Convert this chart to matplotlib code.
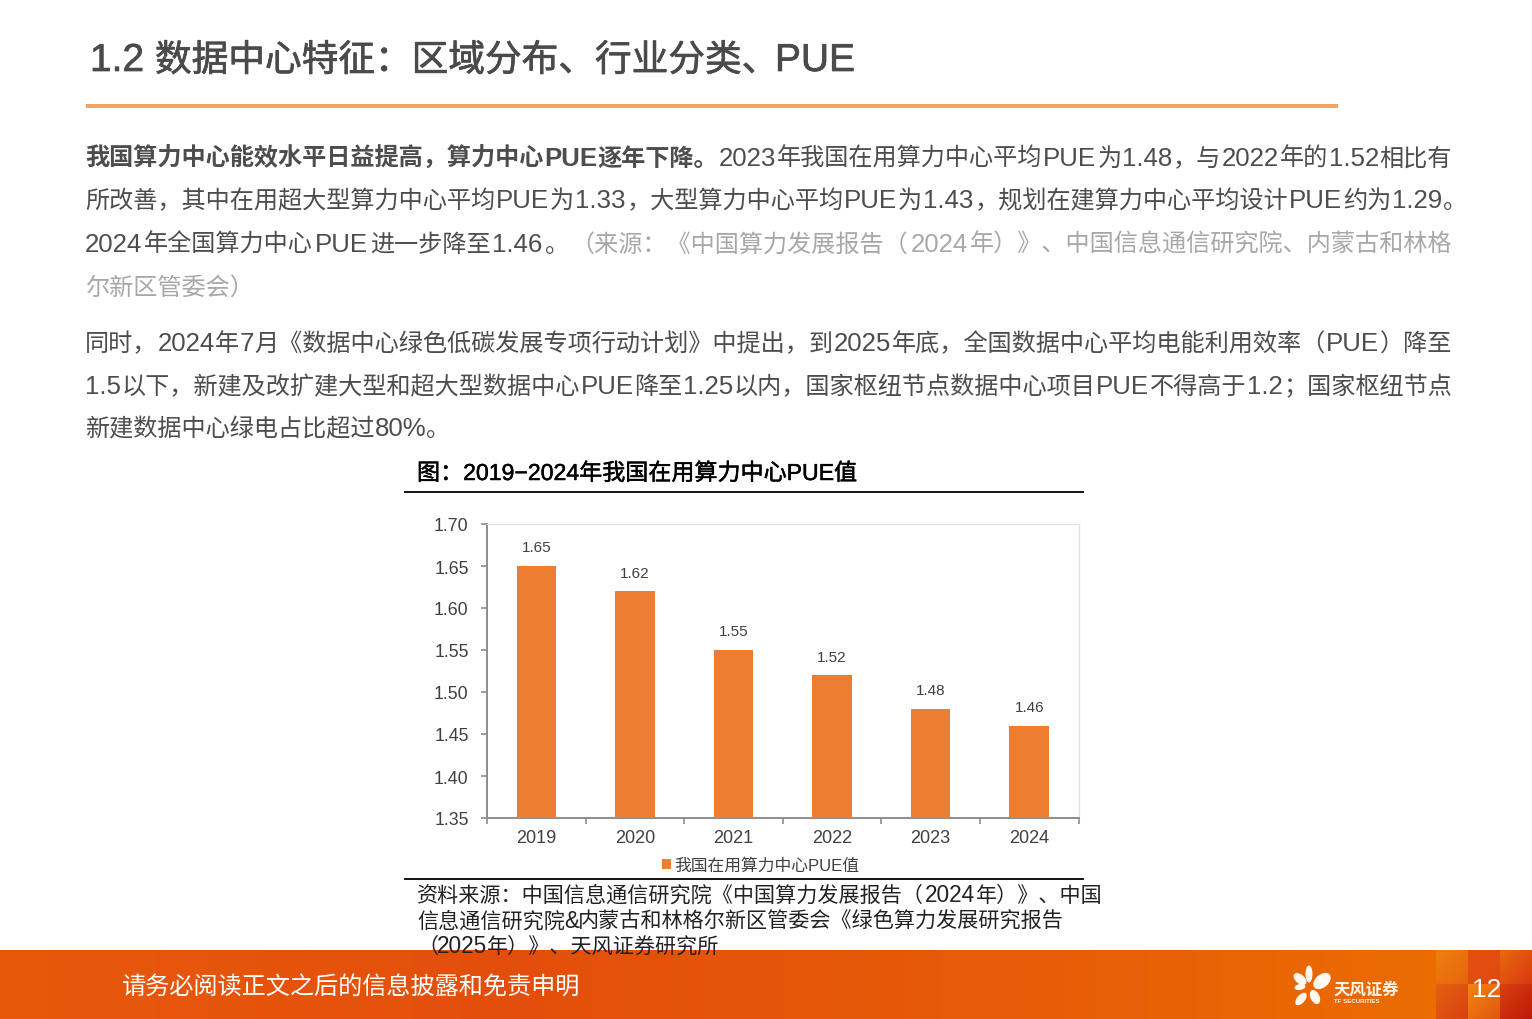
import re
import numpy as np
import matplotlib
matplotlib.use('Agg')
import matplotlib.pyplot as plt
import matplotlib.patheffects as pe
from matplotlib.colors import LinearSegmentedColormap
from matplotlib.patches import Rectangle, Ellipse

plt.rcParams['font.family'] = ['Liberation Sans', 'Noto Sans CJK SC', 'DejaVu Sans']

years = ['2019', '2020', '2021', '2022', '2023', '2024']
pue = [1.65, 1.62, 1.55, 1.52, 1.48, 1.46]
pue_ticks = [1.35, 1.40, 1.45, 1.50, 1.55, 1.60, 1.65, 1.70]
series_name = '我国在用算力中心PUE值'

title_parts = ['1.2', '数据中心特征：区域分布、行业分类、', 'PUE']
chart_title = '图：2019−2024年我国在用算力中心PUE值'
source_lines = ['资料来源：中国信息通信研究院《中国算力发展报告（2024年）》、中国',
                '信息通信研究院&内蒙古和林格尔新区管委会《绿色算力发展研究报告',
                '（2025年）》、天风证券研究所']
footer_note = '请务必阅读正文之后的信息披露和免责申明'
page_no = '12'

# (text, style) runs for each body line
body_lines = [
    [('我国算力中心能效水平日益提高，算力中心PUE逐年下降。', 'b'),
     ('2023年我国在用算力中心平均PUE为1.48，与2022年的1.52相比有', 'n')],
    [('所改善，其中在用超大型算力中心平均PUE为1.33，大型算力中心平均PUE为1.43，规划在建算力中心平均设计PUE约为1.29。', 'n')],
    [('2024年全国算力中心PUE进一步降至1.46。', 'n'),
     ('（来源：《中国算力发展报告（2024年）》、中国信息通信研究院、内蒙古和林格', 'g')],
    [('尔新区管委会）', 'g')],
    [('同时，2024年7月《数据中心绿色低碳发展专项行动计划》中提出，到2025年底，全国数据中心平均电能利用效率（PUE）降至', 'n')],
    [('1.5以下，新建及改扩建大型和超大型数据中心PUE降至1.25以内，国家枢纽节点数据中心项目PUE不得高于1.2；国家枢纽节点', 'n')],
    [('新建数据中心绿电占比超过80%。', 'n')],
]
body_y = [166, 208, 252, 295, 351, 394, 436]
body_end = [1452, 1467, 1452, None, 1452, 1452, None]

W, H = 1532, 1020
fig = plt.figure(figsize=(W / 100, H / 100), dpi=100, facecolor='white')

# page layer in pixel coords
bg = fig.add_axes([0, 0, 1, 1])
bg.set_xlim(0, W)
bg.set_ylim(H, 0)
bg.axis('off')
renderer = fig.canvas.get_renderer()


def draw_line(runs, y, x0, size, x1=None, gap=0.0, zorder=5):
    # latin tokens are set a bit larger, leftover width goes to the cjk/latin joins
    arts = []
    for txt, kw in runs:
        for tok in re.findall(r'[A-Za-z0-9.%&]+|[^A-Za-z0-9.%&]+', txt):
            s = size * 1.07 if re.match(r'[A-Za-z0-9.%&]', tok) else size
            arts.append(bg.text(x0, y, tok, fontsize=s, va='baseline', zorder=zorder, **kw))
    widths = [a.get_window_extent(renderer).width for a in arts]
    if x1 is not None and len(arts) > 1:
        gap = (x1 - x0 - sum(widths)) / (len(arts) - 1)
    x = x0
    for a, w in zip(arts, widths):
        a.set_x(x)
        x += w + gap


heavy = [pe.withStroke(linewidth=0.5, foreground='#4a4a4a')]
for txt, x in zip(title_parts, [90, 155, 775]):
    s = 28 if txt.isascii() else 26.4
    bg.text(x, 72, txt, fontsize=s, color='#4a4a4a', va='baseline', path_effects=heavy)
bg.add_patch(Rectangle((86, 105), 1252, 4, color='#F4A460', lw=0))

run_styles = {'n': dict(color='#4d4d4d'),
              'b': dict(color='#4d4d4d', fontweight='bold'),
              'g': dict(color='#a8a8a8')}
for runs, y, end in zip(body_lines, body_y, body_end):
    draw_line([(t, run_styles[st]) for t, st in runs], y, 85, 17.4, x1=end)

# chart heading and rules
bg.text(417, 481, chart_title, fontsize=16.6, color='black', va='baseline',
        path_effects=[pe.withStroke(linewidth=0.35, foreground='black')])
bg.plot([404, 1084], [492.5, 492.5], color='black', lw=1.3, solid_capstyle='butt')
bg.plot([404, 1084], [879.5, 879.5], color='black', lw=1.3, solid_capstyle='butt')

# footer band
band = LinearSegmentedColormap.from_list('band', ['#E8590C', '#E34F0B', '#E75C08', '#EC7000'])
bg.imshow(np.linspace(0, 1, 256).reshape(1, -1), extent=(0, W, 1020, 951.5), cmap=band,
          aspect='auto', zorder=1)

# corner squares with a diagonal shade
squares = [(1436, 951.5, 32, 33.5, '#EC800E', '#E8650D'), (1468, 951.5, 32, 33.5, '#E4500F', '#E04A10'),
           (1500, 951.5, 32, 33.5, '#E8690F', '#D93A10'), (1436, 985, 32, 35, '#E5600F', '#D8420F'),
           (1468, 985, 32, 35, '#EF8510', '#E3570F'), (1500, 985, 32, 35, '#D8400F', '#BF1A08')]
shade = np.add.outer(np.linspace(0, 1, 32), np.linspace(0, 1, 32)) / 2
for x, y, w, h, c0, c1 in squares:
    cm = LinearSegmentedColormap.from_list('sq', [c0, c1])
    bg.imshow(shade, extent=(x, x + w, y + h, y), cmap=cm, vmin=0, vmax=1, aspect='auto', zorder=2)
bg.set_xlim(0, W)
bg.set_ylim(H, 0)

# source text sits on top of the band, as in the original
for txt, y, end in zip(source_lines, [902, 928, 953], [1103, 1064, 719]):
    draw_line([(txt, dict(color='#222222'))], y, 417, 15.2, x1=end)

bg.text(122, 995, footer_note, fontsize=17.4, color='white', va='baseline', zorder=5)
bg.text(1487, 997, page_no, fontsize=19, color='white', va='baseline', ha='center', zorder=5)

# logo
petals = [(1309, 975, 7, 17, 0), (1322, 982, 13, 20, 50), (1300, 980, 9, 15, -50),
          (1300, 988, 6, 11, 80), (1301, 1000, 8, 15, 40), (1315, 998, 9, 15, -25)]
for x, y, w, h, a in petals:
    bg.add_patch(Ellipse((x, y), w, h, angle=a, color='#FFF8F0', lw=0, zorder=3))
bg.text(1333, 995, '天风证券', fontsize=11.8, color='#FFF3E6', va='baseline', fontweight='bold', zorder=5)
bg.text(1334, 1003, 'TF SECURITIES', fontsize=4.4, color='#FFF3E6', va='baseline', fontweight='bold', zorder=5)

# bar chart
ax = fig.add_axes([487 / W, 1 - 819 / H, (1078.5 - 487) / W, (819 - 525) / H], facecolor='none')
xpos = np.arange(len(years))
ax.bar(xpos, pue, width=0.4, color='#ED7D31', label=series_name, zorder=3)
ax.set_xlim(-0.5, 5.5)
ax.set_ylim(1.35, 1.70)
ax.set_yticks(pue_ticks)
ax.set_yticklabels(['%.2f' % v for v in pue_ticks], fontsize=12.8, color='#404040')
ax.set_xticks(np.arange(-0.5, 6, 1))
ax.set_xticklabels([])
ax.set_xticks(xpos, minor=True)
ax.set_xticklabels(years, minor=True, fontsize=13, color='#404040')
ax.tick_params(axis='x', which='minor', length=0, pad=8.2)
ax.tick_params(axis='x', which='major', direction='out', length=4, width=1.2, color='#8c8c8c')
ax.tick_params(axis='y', direction='out', length=4, width=1.2, color='#8c8c8c', pad=9.2)
for lab in ax.get_yticklabels():
    lab.set_verticalalignment('center_baseline')
for s in ['left', 'bottom']:
    ax.spines[s].set_color('#8c8c8c')
    ax.spines[s].set_linewidth(1.4)
for s in ['top', 'right']:
    ax.spines[s].set_color('#e3e3e3')
    ax.spines[s].set_linewidth(1)
for x, v in zip(xpos, pue):
    ax.annotate('%.2f' % v, (x, v), xytext=(0, 10.5), textcoords='offset points', ha='center',
                fontsize=11, color='#404040')
ax.legend(loc='center', bbox_to_anchor=(761 / W, 1 - 866 / H), bbox_transform=fig.transFigure,
          frameon=False, fontsize=12.1, handlelength=0.55, handleheight=0.55, handletextpad=0.2,
          labelcolor='#404040', borderpad=0)

fig.savefig('out.png', dpi=100)
